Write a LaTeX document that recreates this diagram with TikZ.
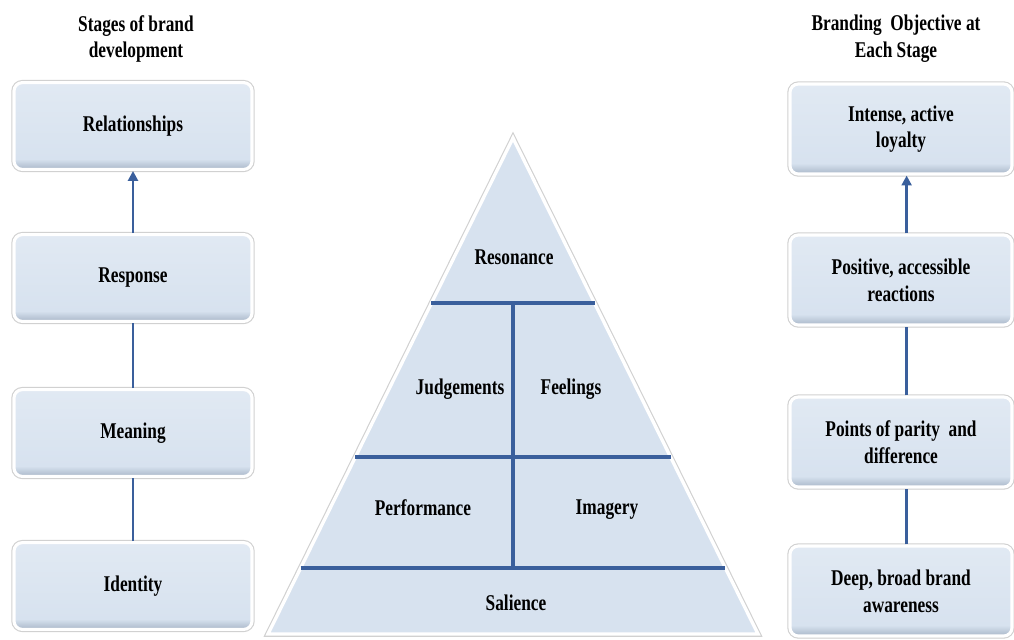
\documentclass[tikz,border=0pt]{standalone}
\usepackage{fontspec}
\setmainfont{Liberation Serif}[FakeStretch=0.77]
\usetikzlibrary{arrows.meta,shadows,calc}
\definecolor{boxblue}{HTML}{D7E2EF}
\definecolor{boxdeep}{HTML}{A9B7C8}
\definecolor{linkblue}{HTML}{3A5F9C}
\pgfdeclareverticalshading{boxshade}{100bp}{color(0bp)=(boxdeep); color(25bp)=(boxdeep);
  color(31bp)=(boxblue); color(75bp)=(boxblue!75!white); color(100bp)=(boxblue!75!white)}
\begin{document}
\begin{tikzpicture}
[x=0.025cm,y=-0.025cm,
 font=\fontsize{16}{19}\selectfont\bfseries,
 stage/.style={rectangle,rounded corners=6pt,align=center,
   minimum width=5.95cm,minimum height=2.17cm,
   drop shadow={shadow xshift=0pt,shadow yshift=-1.5pt,opacity=0.3},
   preaction={draw=black!18,line width=3.8pt},
   shading=boxshade,draw=white,line width=2.2pt},
 goal/.style={stage,minimum width=5.55cm,minimum height=2.25cm},
 heading/.style={align=center},
 link/.style={draw=linkblue,line width=2.1pt},
 uplink/.style={link,-{Triangle[width=7pt,length=7pt]}},
 tier/.style={draw=linkblue,line width=2.8pt},
 pyramid/.style={fill=boxblue,draw=white,line width=2.4pt,
   preaction={draw=black!18,line width=4pt}}]
\useasboundingbox (0,0) rectangle (1014,639);

\node[heading] (stagehead) at (136,39) {Stages of brand\\development};
\node[heading] (goalhead) at (896,39) {Branding~ Objective at\\Each Stage};

\node[stage] (relationships) at (133,126) {Relationships};
\node[stage] (response) at (133,278) {Response};
\node[stage] (meaning) at (133,433) {Meaning};
\node[stage] (identity) at (133,586) {Identity};

\node[goal] (loyalty) at (901,129) {Intense, active\\loyalty};
\node[goal] (reactions) at (901,280) {Positive, accessible\\reactions};
\node[goal] (parity) at (901,442) {Points of parity~ and\\difference};
\node[goal] (awareness) at (901,591) {Deep, broad brand\\awareness};

\draw[link] (identity) -- (meaning);
\draw[link] (meaning) -- (response);
\draw[uplink] (response) -- (relationships);
\draw[link] ([xshift=4pt]awareness.north) -- ([xshift=4pt]parity.south);
\draw[link] ([xshift=4pt]parity.north) -- ([xshift=4pt]reactions.south);
\draw[uplink] ([xshift=4pt]reactions.north) -- ([xshift=4pt]loyalty.south);

\coordinate (apex) at (513,138);
\coordinate (baseL) at (268,634);
\coordinate (baseR) at (758,634);
\filldraw[pyramid] (apex) -- (baseL) -- (baseR) -- cycle;

\coordinate (t1l) at ($(apex)!0.333!(baseL)$);
\coordinate (t1r) at ($(apex)!0.333!(baseR)$);
\coordinate (t2l) at ($(apex)!0.643!(baseL)$);
\coordinate (t2r) at ($(apex)!0.643!(baseR)$);
\coordinate (t3l) at ($(apex)!0.867!(baseL)$);
\coordinate (t3r) at ($(apex)!0.867!(baseR)$);
\draw[tier] (t1l) -- (t1r);
\draw[tier] (t2l) -- (t2r);
\draw[tier] (t3l) -- (t3r);
\draw[tier] ($(t1l)!0.5!(t1r)$) -- ($(t3l)!0.5!(t3r)$);

\node (resonance) at (514,257) {Resonance};
\node (judgements) at (460,389) {Judgements};
\node (feelings) at (571,389) {Feelings};
\node (performance) at (423,508) {Performance};
\node (imagery) at (607,510) {Imagery};
\node (salience) at (516,603) {Salience};
\end{tikzpicture}
\end{document}
